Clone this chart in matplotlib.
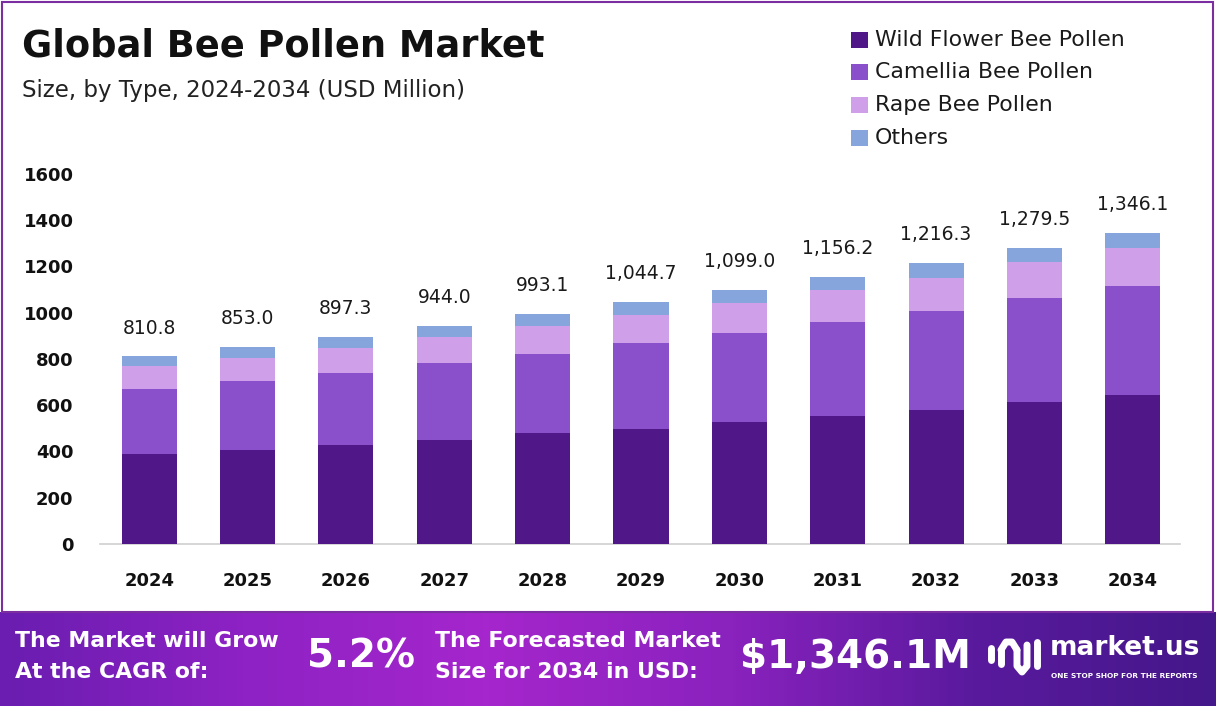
import matplotlib
matplotlib.use("Agg")
import matplotlib.pyplot as plt
import numpy as np
from matplotlib.colors import LinearSegmentedColormap
from matplotlib.patches import Rectangle, Arc

years = ["2024", "2025", "2026", "2027", "2028", "2029", "2030", "2031", "2032", "2033", "2034"]
wild_flower = [389, 408, 429, 451, 480, 499, 528, 555, 581, 613, 646]
camellia = [283, 299, 311, 330, 343, 369, 386, 405, 426, 450, 470]
rape = [97, 98, 108, 114, 120, 123, 130, 139, 145, 155, 162]
others = [42, 48, 49, 49, 50, 54, 55, 57, 64, 62, 68]
totals = [810.8, 853.0, 897.3, 944.0, 993.1, 1044.7, 1099.0, 1156.2, 1216.3, 1279.5, 1346.1]
total_labels = ["810.8", "853.0", "897.3", "944.0", "993.1", "1,044.7", "1,099.0",
                "1,156.2", "1,216.3", "1,279.5", "1,346.1"]
series_names = ["Wild Flower Bee Pollen", "Camellia Bee Pollen", "Rape Bee Pollen", "Others"]
colors = ["#4F1787", "#8A4FCB", "#CFA0E9", "#86A5DC"]
yticks = [0, 200, 400, 600, 800, 1000, 1200, 1400, 1600]

plt.rcParams["font.family"] = ["DejaVu Sans"]

W, H = 1216, 706
fig = plt.figure(figsize=(W / 100, H / 100), dpi=100)
fig.patch.set_facecolor("white")

def fx(px):
    return px / W

def fy(py):
    return 1 - py / H

# main axes
left, right, top, bottom = 100, 1180, 174, 544
ax = fig.add_axes([fx(left), fy(bottom), fx(right - left), (bottom - top) / H])
x = np.arange(len(years))
bw = 0.56
base = np.zeros(len(years))
for vals, c in zip([wild_flower, camellia, rape, others], colors):
    ax.bar(x, vals, bw, bottom=base, color=c, edgecolor="none", zorder=3)
    base = base + np.array(vals)

for xi, t, lab in zip(x, totals, total_labels):
    ax.annotate(lab, (xi, t), xytext=(0, 16.5), textcoords="offset points",
                ha="center", va="baseline", fontsize=13.5, color="#1a1a1a")

ax.set_xlim(-0.5, 10.48)
ax.set_ylim(0, 1600)
ax.set_yticks(yticks)
ax.set_yticklabels([str(v) for v in yticks], fontsize=13, fontweight="bold", color="#111111")
ax.set_xticks(x)
ax.set_xticklabels(years, fontsize=13, fontweight="bold", color="#111111")
ax.tick_params(axis="both", length=0)
ax.tick_params(axis="y", pad=19)
ax.tick_params(axis="x", pad=20)
for s in ["top", "right", "left"]:
    ax.spines[s].set_visible(False)
ax.spines["bottom"].set_color("#cfcfcf")
ax.spines["bottom"].set_linewidth(1.2)
ax.set_facecolor("none")

# title
fig.text(fx(22), fy(46), "Global Bee Pollen Market", fontsize=26.5, fontweight="bold",
         color="#111111", ha="left", va="center")
fig.text(fx(22), fy(90), "Size, by Type, 2024-2034 (USD Million)", fontsize=16.5,
         color="#222222", ha="left", va="center")

# legend
leg_y = [40, 72, 105, 138]
for name, c, ly in zip(series_names, colors, leg_y):
    fig.patches.append(Rectangle((fx(851), fy(ly + 8)), fx(17), 16 / H, transform=fig.transFigure,
                                 facecolor=c, edgecolor="none"))
    fig.text(fx(875), fy(ly), name, fontsize=15.8, color="#1a1a1a", ha="left", va="center")

# border
fig.patches.append(Rectangle((fx(2), fy(612)), fx(1211), (612 - 2) / H, transform=fig.transFigure,
                             facecolor="none", edgecolor="#7A2EA0", linewidth=1.5))

# banner
bax = fig.add_axes([0, 0, 1, (H - 612) / H])
cmap = LinearSegmentedColormap.from_list("ban", ["#6A1DB0", "#8E22C4", "#A526CC", "#8A22BE", "#5A1A9E", "#44178A"])
grad = np.linspace(0, 1, 400).reshape(1, -1)
bax.imshow(grad, aspect="auto", cmap=cmap, extent=[0, 1, 0, 1])
bax.set_xlim(0, 1)
bax.set_ylim(0, 1)
bax.axis("off")

def bx(px):
    return px / W

def by(py):
    return (706 - py) / (706 - 612)

tk = dict(color="white", fontweight="bold", ha="left", va="center", transform=bax.transAxes)
bax.text(bx(15), by(641), "The Market will Grow", fontsize=15.8, **tk)
bax.text(bx(15), by(672), "At the CAGR of:", fontsize=15.8, **tk)
bax.text(bx(307), by(657), "5.2%", fontsize=28, **tk)
bax.text(bx(435), by(641), "The Forecasted Market", fontsize=15.8, **tk)
bax.text(bx(435), by(672), "Size for 2034 in USD:", fontsize=15.8, **tk)
bax.text(bx(740), by(657), "$1,346.1M", fontsize=28, **tk)
bax.text(bx(1050), by(648), "market.us", fontsize=19, **tk)
bax.text(bx(1051), by(676), "ONE STOP SHOP FOR THE REPORTS", fontsize=5.3, **tk)
# simple logo mark
lk = dict(color="white", lw=5, solid_capstyle="round", transform=bax.transAxes)
bax.plot([bx(991), bx(991)], [by(648), by(660)], **lk)
bax.plot([bx(1001), bx(1001)], [by(650), by(664)], **lk)
bax.plot([bx(1001), bx(1006), bx(1012), bx(1017)], [by(650), by(642), by(642), by(650)], **lk)
bax.plot([bx(1017), bx(1017), bx(1022), bx(1027), bx(1027)], [by(650), by(666), by(672), by(666), by(645)], **lk)
bax.plot([bx(1037), bx(1037)], [by(642), by(666)], **lk)

fig.savefig("out.png", dpi=100, facecolor="white")
